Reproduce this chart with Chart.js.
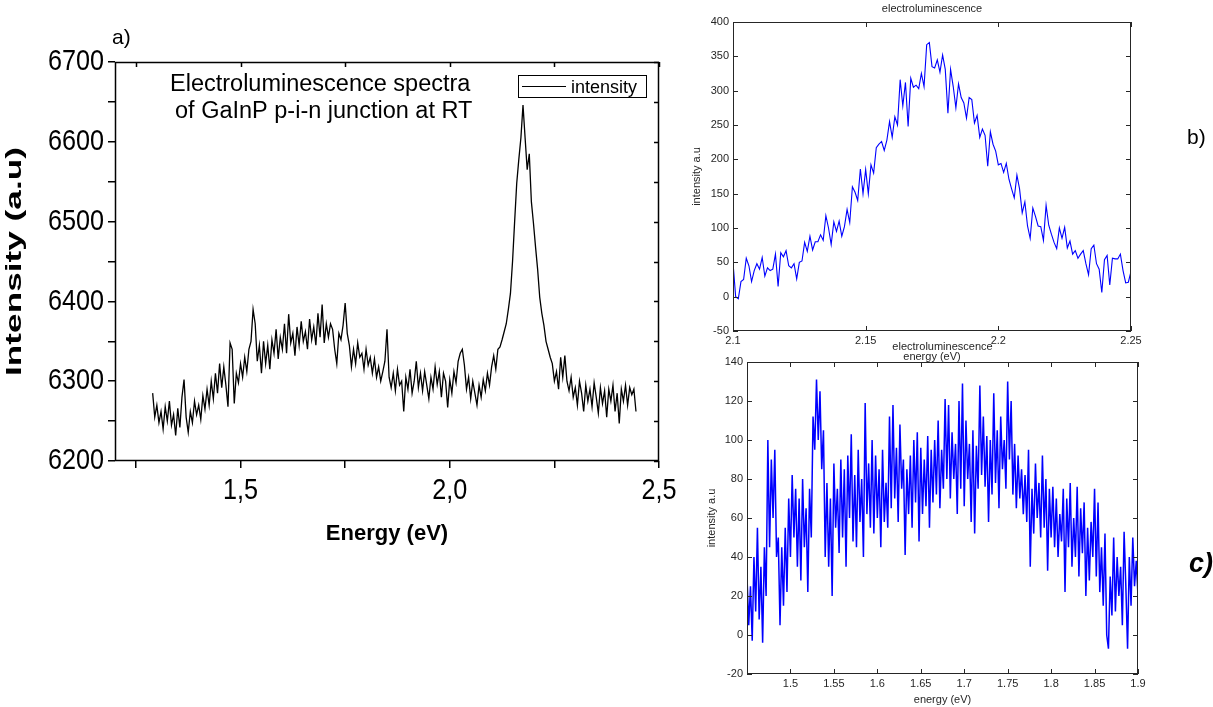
<!DOCTYPE html>
<html>
<head>
<meta charset="utf-8">
<script src="https://cdn.jsdelivr.net/npm/chart.js@4.4.1/dist/chart.umd.min.js"></script>
<style>
  body { margin: 0; background: #fff; }
  #page { position: relative; width: 1213px; height: 707px; overflow: hidden; background: #fff; }
  canvas { position: absolute; }
  .tag { position: absolute; font-family: "Liberation Sans", Arial, sans-serif; color: #000; line-height: 1; }
</style>
</head>
<body>
<div id="page">
  <canvas id="chartA" width="680" height="560" style="left:0;top:0"></canvas>
  <canvas id="chartB" width="533" height="365" style="left:680px;top:0"></canvas>
  <canvas id="chartC" width="533" height="367" style="left:680px;top:340px"></canvas>
  <div class="tag" style="left:112px;top:26px;font-size:21px">a)</div>
  <div class="tag" style="left:1187px;top:126px;font-size:21px">b)</div>
  <div class="tag" style="left:1189px;top:550px;font-size:27px;font-weight:bold;font-style:italic">c)</div>
</div>
<script>
// ---- panel a : GaInP p-i-n junction, Origin style ----
const energyA = [
  1.290,1.295,1.300,1.305,1.310,1.315,1.320,1.325,1.330,1.335,
  1.340,1.345,1.350,1.355,1.360,1.365,1.370,1.375,1.380,1.385,
  1.390,1.395,1.400,1.405,1.410,1.415,1.420,1.425,1.430,1.435,
  1.440,1.445,1.450,1.455,1.460,1.465,1.470,1.475,1.480,1.485,
  1.490,1.495,1.500,1.505,1.510,1.515,1.520,1.525,1.530,1.535,
  1.540,1.545,1.550,1.555,1.560,1.565,1.570,1.575,1.580,1.585,
  1.590,1.595,1.600,1.605,1.610,1.615,1.620,1.625,1.630,1.635,
  1.640,1.645,1.650,1.655,1.660,1.665,1.670,1.675,1.680,1.685,
  1.690,1.695,1.700,1.705,1.710,1.715,1.720,1.725,1.730,1.735,
  1.740,1.745,1.750,1.755,1.760,1.765,1.770,1.775,1.780,1.785,
  1.790,1.795,1.800,1.805,1.810,1.815,1.820,1.825,1.830,1.835,
  1.840,1.845,1.850,1.855,1.860,1.865,1.870,1.875,1.880,1.885,
  1.890,1.895,1.900,1.905,1.910,1.915,1.920,1.925,1.930,1.935,
  1.940,1.945,1.950,1.955,1.960,1.965,1.970,1.975,1.980,1.985,
  1.990,1.995,2.000,2.005,2.010,2.015,2.020,2.025,2.030,2.035,
  2.040,2.045,2.050,2.055,2.060,2.065,2.070,2.075,2.080,2.085,
  2.090,2.095,2.100,2.105,2.110,2.115,2.120,2.125,2.130,2.135,
  2.140,2.145,2.150,2.155,2.160,2.165,2.170,2.175,2.180,2.185,
  2.190,2.195,2.200,2.205,2.210,2.215,2.220,2.225,2.230,2.235,
  2.240,2.245,2.250,2.255,2.260,2.265,2.270,2.275,2.280,2.285,
  2.290,2.295,2.300,2.305,2.310,2.315,2.320,2.325,2.330,2.335,
  2.340,2.345,2.350,2.355,2.360,2.365,2.370,2.375,2.380,2.385,
  2.390,2.395,2.400,2.405,2.410,2.415,2.420,2.425,2.430,2.435,
  2.440,2.445
];
const intensityA = [
  6285,6255,6270,6248,6262,6240,6268,6250,6275,6245,
  6258,6232,6266,6242,6280,6302,6255,6236,6262,6248,
  6275,6258,6270,6252,6282,6265,6290,6270,6300,6278,
  6310,6285,6322,6292,6318,6295,6268,6348,6340,6272,
  6310,6298,6322,6305,6330,6312,6340,6350,6390,6372,
  6325,6345,6310,6350,6322,6345,6315,6352,6335,6365,
  6328,6355,6340,6372,6335,6384,6348,6360,6332,6368,
  6345,6375,6350,6362,6340,6378,6352,6368,6345,6385,
  6355,6396,6348,6372,6355,6372,6365,6340,6322,6360,
  6352,6370,6398,6360,6345,6318,6340,6322,6348,6330,
  6335,6315,6340,6320,6330,6310,6328,6305,6318,6300,
  6312,6325,6365,6305,6292,6310,6288,6315,6295,6300,
  6262,6305,6290,6315,6285,6300,6325,6292,6310,6288,
  6312,6295,6278,6305,6290,6318,6296,6312,6280,6310,
  6300,6267,6302,6285,6312,6298,6325,6335,6340,6320,
  6290,6305,6278,6300,6285,6270,6295,6280,6302,6288,
  6310,6295,6318,6332,6315,6340,6343,6352,6362,6372,
  6390,6410,6450,6500,6548,6578,6605,6646,6605,6565,
  6585,6525,6498,6468,6440,6405,6385,6370,6350,6340,
  6330,6322,6300,6312,6290,6330,6305,6332,6300,6288,
  6305,6280,6292,6270,6300,6285,6262,6295,6275,6290,
  6268,6298,6280,6260,6292,6272,6288,6255,6290,6275,
  6295,6262,6285,6247,6290,6275,6295,6270,6292,6283,
  6290,6262
];
const seriesLabelA = 'intensity';
const noteLinesA = ['Electroluminescence spectra', 'of GaInP p-i-n junction at RT'];
const yTitleA = 'Intensity (a.u)';
const ticksAx = [1.25, 1.5, 1.75, 2.0, 2.25, 2.5];
const labelsAx = ['', '1,5', '', '2,0', '', '2,5'];
const ticksAy = [6200, 6250, 6300, 6350, 6400, 6450, 6500, 6550, 6600, 6650, 6700];
const labelsAy = ['6200', '', '6300', '', '6400', '', '6500', '', '6600', '', '6700'];

// ---- panel b : electroluminescence peak, MATLAB style ----
const energyB = [
  2.100,2.101,2.102,2.103,2.104,2.105,2.106,2.107,2.108,2.109,
  2.110,2.111,2.112,2.113,2.114,2.115,2.116,2.117,2.118,2.119,
  2.120,2.121,2.122,2.123,2.124,2.125,2.126,2.127,2.128,2.129,
  2.130,2.131,2.132,2.133,2.134,2.135,2.136,2.137,2.138,2.139,
  2.140,2.141,2.142,2.143,2.144,2.145,2.146,2.147,2.148,2.149,
  2.150,2.151,2.152,2.153,2.154,2.155,2.156,2.157,2.158,2.159,
  2.160,2.161,2.162,2.163,2.164,2.165,2.166,2.167,2.168,2.169,
  2.170,2.171,2.172,2.173,2.174,2.175,2.176,2.177,2.178,2.179,
  2.180,2.181,2.182,2.183,2.184,2.185,2.186,2.187,2.188,2.189,
  2.190,2.191,2.192,2.193,2.194,2.195,2.196,2.197,2.198,2.199,
  2.200,2.201,2.202,2.203,2.204,2.205,2.206,2.207,2.208,2.209,
  2.210,2.211,2.212,2.213,2.214,2.215,2.216,2.217,2.218,2.219,
  2.220,2.221,2.222,2.223,2.224,2.225,2.226,2.227,2.228,2.229,
  2.230,2.231,2.232,2.233,2.234,2.235,2.236,2.237,2.238,2.239,
  2.240,2.241,2.242,2.243,2.244,2.245,2.246,2.247,2.248,2.249,
  2.250
];
const intensityB = [
  50,0,-3,22,25,56,45,22,38,48,
  40,57,30,42,38,40,62,15,64,58,
  67,45,42,48,26,50,52,79,66,88,
  68,80,80,90,82,118,100,76,109,95,
  110,88,102,127,108,160,152,140,186,150,
  185,150,192,180,217,222,226,213,228,255,
  232,262,250,316,278,312,248,318,305,308,
  303,325,306,367,370,335,333,345,327,352,
  331,267,331,306,275,310,290,282,260,290,
  287,253,264,232,244,235,190,240,222,212,
  192,194,181,194,171,157,144,177,157,122,
  138,103,85,129,117,103,102,82,133,104,
  91,79,70,100,85,101,71,81,62,67,
  56,62,67,48,32,70,75,48,40,6,
  54,60,17,56,55,55,62,38,20,21,
  37
];
const ticksBx = [2.1, 2.15, 2.2, 2.25];
const labelsBx = ['2.1', '2.15', '2.2', '2.25'];
const ticksBy = [-50, 0, 50, 100, 150, 200, 250, 300, 350, 400];

// ---- panel c : low energy band, MATLAB style ----
const energyC = [
  1.450,1.452,1.454,1.456,1.458,1.460,1.462,1.464,1.466,1.468,
  1.470,1.472,1.474,1.476,1.478,1.480,1.482,1.484,1.486,1.488,
  1.490,1.492,1.494,1.496,1.498,1.500,1.502,1.504,1.506,1.508,
  1.510,1.512,1.514,1.516,1.518,1.520,1.522,1.524,1.526,1.528,
  1.530,1.532,1.534,1.536,1.538,1.540,1.542,1.544,1.546,1.548,
  1.550,1.552,1.554,1.556,1.558,1.560,1.562,1.564,1.566,1.568,
  1.570,1.572,1.574,1.576,1.578,1.580,1.582,1.584,1.586,1.588,
  1.590,1.592,1.594,1.596,1.598,1.600,1.602,1.604,1.606,1.608,
  1.610,1.612,1.614,1.616,1.618,1.620,1.622,1.624,1.626,1.628,
  1.630,1.632,1.634,1.636,1.638,1.640,1.642,1.644,1.646,1.648,
  1.650,1.652,1.654,1.656,1.658,1.660,1.662,1.664,1.666,1.668,
  1.670,1.672,1.674,1.676,1.678,1.680,1.682,1.684,1.686,1.688,
  1.690,1.692,1.694,1.696,1.698,1.700,1.702,1.704,1.706,1.708,
  1.710,1.712,1.714,1.716,1.718,1.720,1.722,1.724,1.726,1.728,
  1.730,1.732,1.734,1.736,1.738,1.740,1.742,1.744,1.746,1.748,
  1.750,1.752,1.754,1.756,1.758,1.760,1.762,1.764,1.766,1.768,
  1.770,1.772,1.774,1.776,1.778,1.780,1.782,1.784,1.786,1.788,
  1.790,1.792,1.794,1.796,1.798,1.800,1.802,1.804,1.806,1.808,
  1.810,1.812,1.814,1.816,1.818,1.820,1.822,1.824,1.826,1.828,
  1.830,1.832,1.834,1.836,1.838,1.840,1.842,1.844,1.846,1.848,
  1.850,1.852,1.854,1.856,1.858,1.860,1.862,1.864,1.866,1.868,
  1.870,1.872,1.874,1.876,1.878,1.880,1.882,1.884,1.886,1.888,
  1.890,1.892,1.894,1.896,1.898,1.900
];
const intensityC = [
  30,5,25,-3,40,12,55,8,35,-4,
  45,20,100,45,90,60,95,40,50,5,
  45,15,55,22,70,40,82,50,75,35,
  70,28,80,45,65,22,75,50,112,95,
  131,100,125,85,105,40,78,35,70,20,
  88,55,75,42,90,50,85,35,92,60,
  103,48,82,45,95,58,80,40,119,62,
  88,55,100,52,92,60,85,45,95,58,
  78,55,112,65,118,70,96,58,108,75,
  90,41,85,62,92,55,100,68,104,48,
  96,62,90,66,102,55,95,68,100,72,
  110,65,95,75,121,80,118,70,104,80,
  98,62,120,75,129,66,110,80,98,58,
  105,52,97,75,128,82,112,76,102,58,
  100,72,124,78,105,65,112,85,100,75,
  130,90,120,72,98,65,92,70,85,62,
  82,58,95,35,75,52,88,60,78,50,
  92,55,80,33,75,50,76,45,70,40,
  62,48,75,22,70,45,78,35,60,40,
  76,30,65,42,68,20,55,28,58,40,
  75,30,68,22,45,15,52,0,-7,30,
  10,50,12,40,20,35,5,53,25,-7,
  40,15,50,25,38,20
];
const ticksCx = [1.5, 1.55, 1.6, 1.65, 1.7, 1.75, 1.8, 1.85, 1.9];
const labelsCx = ['1.5', '1.55', '1.6', '1.65', '1.7', '1.75', '1.8', '1.85', '1.9'];
const ticksCy = [-20, 0, 20, 40, 60, 80, 100, 120, 140];

const plotTitle = 'electroluminescence';
const matlabInk = '#262626';
const sans = '"Liberation Sans", Arial, Helvetica, sans-serif';
Chart.defaults.font.family = sans;

// box round the plot area, with short ticks pointing inwards
function frame(cfg) {
  return {
    id: 'frame',
    afterDatasetsDraw(chart) {
      const {ctx, chartArea: a} = chart;
      const xs = chart.scales.x, ys = chart.scales.y;
      ctx.save();
      ctx.strokeStyle = cfg.color;
      ctx.lineWidth = cfg.width;
      ctx.strokeRect(a.left + 0.5, a.top + 0.5, a.right - a.left - 1, a.bottom - a.top - 1);
      ctx.beginPath();
      xs.ticks.forEach(t => {
        const p = Math.round(xs.getPixelForValue(t.value)) + 0.5;
        if (cfg.sides.includes('b')) { ctx.moveTo(p, a.bottom); ctx.lineTo(p, a.bottom - cfg.tick); }
        if (cfg.sides.includes('t')) { ctx.moveTo(p, a.top); ctx.lineTo(p, a.top + cfg.tick); }
      });
      ys.ticks.forEach(t => {
        const p = Math.round(ys.getPixelForValue(t.value)) + 0.5;
        if (cfg.sides.includes('l')) { ctx.moveTo(a.left, p); ctx.lineTo(a.left + cfg.tick, p); }
        if (cfg.sides.includes('r')) { ctx.moveTo(a.right, p); ctx.lineTo(a.right - cfg.tick, p); }
      });
      ctx.stroke();
      ctx.restore();
    }
  };
}

// text drawn narrower than the font, like the Origin export
function squeezed(ctx, text, x, y, sx, sy, align, rot) {
  ctx.save();
  ctx.translate(x, y);
  if (rot) ctx.rotate(rot);
  ctx.scale(sx, sy);
  ctx.textAlign = align;
  ctx.fillText(text, 0, 0);
  ctx.restore();
}

// tick labels, annotation, boxed legend and y title of panel a
const notesA = {
  id: 'notesA',
  afterDraw(chart) {
    const ctx = chart.ctx;
    const xs = chart.scales.x, ys = chart.scales.y;
    ctx.save();
    ctx.fillStyle = '#000';
    ctx.font = '30px ' + sans;
    ctx.textBaseline = 'middle';
    ys.ticks.forEach(t => squeezed(ctx, t.label, 104, ys.getPixelForValue(t.value), 0.84, 1, 'right'));
    xs.ticks.forEach(t => squeezed(ctx, t.label, xs.getPixelForValue(t.value), 491, 0.84, 1, 'center'));

    ctx.textBaseline = 'alphabetic';
    ctx.font = '23.5px ' + sans;
    ctx.fillText(noteLinesA[0], 170, 91);
    ctx.fillText(noteLinesA[1], 175, 118);
    ctx.strokeStyle = '#000';
    ctx.lineWidth = 1;
    ctx.strokeRect(518.5, 75.5, 128, 22);
    ctx.beginPath();
    ctx.moveTo(522, 86.5);
    ctx.lineTo(566, 86.5);
    ctx.stroke();
    ctx.font = '18px ' + sans;
    ctx.fillText(chart.data.datasets[0].label, 571, 93);

    ctx.font = 'bold 22px ' + sans;
    ctx.textBaseline = 'middle';
    squeezed(ctx, yTitleA, 15, 261.5, 1.6, 1, 'center', -Math.PI / 2);
    ctx.restore();
  }
};

const toPoints = (xs, ys) => xs.map((x, i) => ({x: x, y: ys[i]}));
const fixTicks = list => scale => { scale.ticks = list.map(v => ({value: v})); };

new Chart(document.getElementById('chartA'), {
  type: 'scatter',
  data: {
    datasets: [{
      label: seriesLabelA,
      data: toPoints(energyA, intensityA),
      showLine: true,
      borderColor: '#000',
      borderWidth: 1.3,
      pointRadius: 0
    }]
  },
  options: {
    responsive: false,
    animation: false,
    layout: { padding: { top: 62, right: 21, left: 0, bottom: 0 } },
    plugins: { legend: { display: false }, tooltip: { enabled: false } },
    scales: {
      x: {
        type: 'linear', min: 1.2, max: 2.5,
        afterBuildTicks: fixTicks(ticksAx),
        afterFit: s => { s.height = 99; },
        ticks: { display: false, callback: (v, i) => labelsAx[i], autoSkip: false, maxRotation: 0 },
        grid: { drawOnChartArea: false, color: '#000', lineWidth: 1.5, tickLength: 7 },
        border: { display: false },
        title: { display: true, text: 'Energy (eV)', font: { size: 22, weight: 'bold' }, color: '#000', padding: { top: 0, bottom: 13 } }
      },
      y: {
        min: 6200, max: 6700,
        afterBuildTicks: fixTicks(ticksAy),
        afterFit: s => { s.width = 115; },
        ticks: { display: false, callback: (v, i) => labelsAy[i], autoSkip: false },
        grid: { drawOnChartArea: false, color: '#000', lineWidth: 1.5, tickLength: 7 },
        border: { display: false },
        title: { display: false }
      }
    }
  },
  plugins: [frame({ color: '#000', width: 1.5, tick: 5, sides: 'tr' }), notesA]
});

function matlabChart(id, o) {
  return new Chart(document.getElementById(id), {
    type: 'scatter',
    data: {
      datasets: [{
        label: 'intensity a.u',
        data: toPoints(o.energy, o.intensity),
        showLine: true,
        borderColor: '#0000ff',
        borderWidth: o.lineWidth,
        pointRadius: 0
      }]
    },
    options: {
      responsive: false,
      animation: false,
      layout: { padding: { top: 0, right: o.padRight, left: 0, bottom: 0 } },
      plugins: {
        legend: { display: false },
        tooltip: { enabled: false },
        title: { display: true, text: plotTitle, fullSize: false, font: { size: 11, weight: 'normal' }, color: matlabInk, padding: o.titlePad }
      },
      scales: {
        x: {
          type: 'linear', min: o.xMin, max: o.xMax,
          afterBuildTicks: fixTicks(o.xTicks),
          afterFit: s => { s.height = o.xHeight; },
          ticks: { callback: (v, i) => o.xLabels[i], font: { size: 11 }, color: matlabInk, padding: 3, autoSkip: false, maxRotation: 0 },
          grid: { display: false, drawTicks: false },
          border: { display: false },
          title: { display: true, text: 'energy (eV)', font: { size: 11 }, color: matlabInk, padding: { top: 0, bottom: o.xTitleGap } }
        },
        y: {
          min: o.yMin, max: o.yMax,
          afterBuildTicks: fixTicks(o.yTicks),
          afterFit: s => { s.width = o.yWidth; },
          ticks: { font: { size: 11 }, color: matlabInk, padding: 4, autoSkip: false },
          grid: { display: false, drawTicks: false },
          border: { display: false },
          title: { display: true, text: 'intensity a.u', font: { size: 11 }, color: matlabInk, padding: { top: o.yTitleGap, bottom: 0 } }
        }
      }
    },
    plugins: [frame({ color: matlabInk, width: 1, tick: 5, sides: 'tblr' })]
  });
}

matlabChart('chartB', {
  energy: energyB, intensity: intensityB, lineWidth: 1.1,
  xMin: 2.1, xMax: 2.25, xTicks: ticksBx, xLabels: labelsBx,
  yMin: -50, yMax: 400, yTicks: ticksBy,
  padRight: 82, yWidth: 53, xHeight: 34,
  titlePad: { top: 2, bottom: 6.8 }, xTitleGap: 1.4, yTitleGap: 10
});

matlabChart('chartC', {
  energy: energyC, intensity: intensityC, lineWidth: 1.5,
  xMin: 1.45, xMax: 1.9, xTicks: ticksCx, xLabels: labelsCx,
  yMin: -20, yMax: 140, yTicks: ticksCy,
  padRight: 75, yWidth: 67, xHeight: 33,
  titlePad: { top: 0.4, bottom: 8.4 }, xTitleGap: 0.4, yTitleGap: 25.4
});
</script>
</body>
</html>
